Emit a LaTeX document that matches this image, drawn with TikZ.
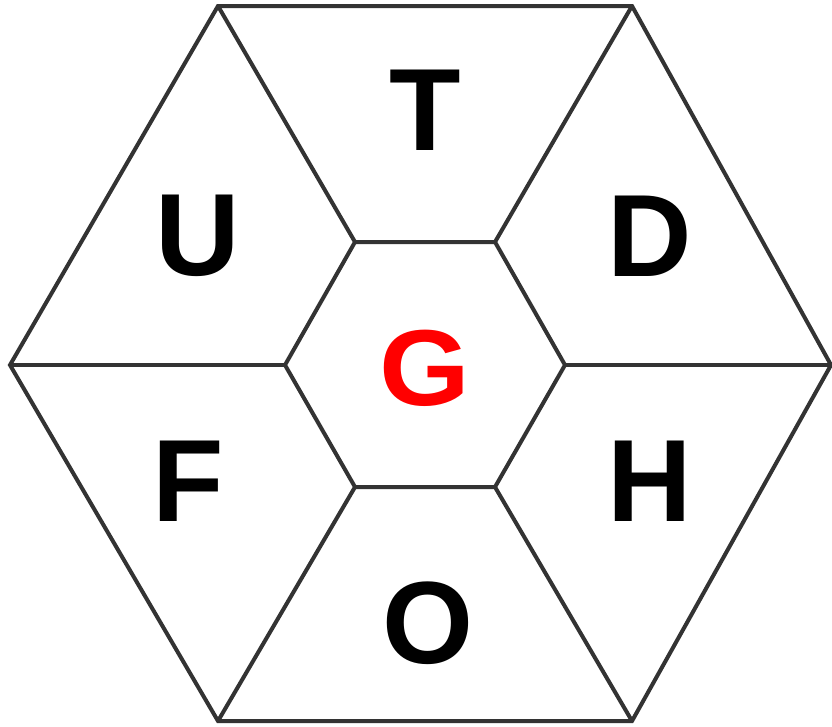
\documentclass[tikz,border=0pt]{standalone}
\usepackage{fontspec}
\setmainfont{Liberation Sans}
\definecolor{edge}{HTML}{333333}
\begin{document}
\begin{tikzpicture}[x=1pt,y=-1pt,
  hexline/.style={draw=edge,line width=4pt,line join=miter},
  letter/.style={font=\fontsize{117}{117}\selectfont\bfseries,inner sep=0pt},
  centerletter/.style={font=\fontsize{108}{108}\selectfont\bfseries,text=red,inner sep=0pt,xscale=1.08}]
\useasboundingbox (0,0) rectangle (832,726);
% outer vertices
\coordinate (o1) at (218,6);
\coordinate (o2) at (632,6);
\coordinate (o3) at (831,365);
\coordinate (o4) at (632,721);
\coordinate (o5) at (218,721);
\coordinate (o6) at (10,365);
% inner vertices
\coordinate (i1) at (355,242);
\coordinate (i2) at (495,242);
\coordinate (i3) at (565,365);
\coordinate (i4) at (495,487);
\coordinate (i5) at (355,487);
\coordinate (i6) at (285,365);
\draw[hexline] (o1) -- (o2) -- (o3) -- (o4) -- (o5) -- (o6) -- cycle;
\draw[hexline] (i1) -- (i2) -- (i3) -- (i4) -- (i5) -- (i6) -- cycle;
\draw[hexline] (o1) -- (i1);
\draw[hexline] (o2) -- (i2);
\draw[hexline] (o3) -- (i3);
\draw[hexline] (o4) -- (i4);
\draw[hexline] (o5) -- (i5);
\draw[hexline] (o6) -- (i6);
\node[letter] (T) at (425,110) {T};
\node[letter] (U) at (198,236) {U};
\node[letter] (D) at (650,236) {D};
\node[letter] (F) at (188,481) {F};
\node[letter] (H) at (650,481) {H};
\node[letter] (O) at (428,623) {O};
\node[centerletter] (G) at (425,368) {G};
\end{tikzpicture}
\end{document}
